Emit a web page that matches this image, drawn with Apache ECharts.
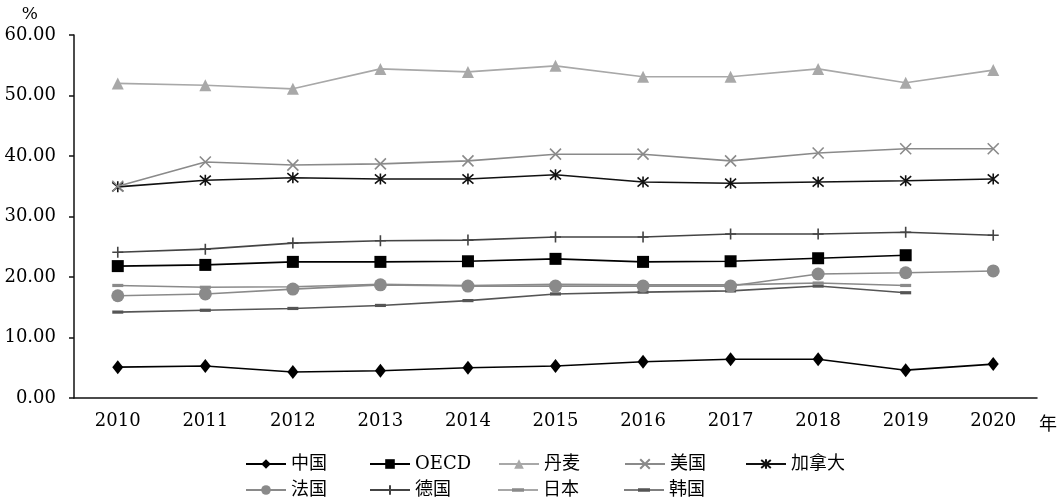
<!DOCTYPE html>
<html>
<head>
<meta charset="utf-8">
<script src="https://cdn.jsdelivr.net/npm/echarts@6/dist/echarts.min.js"></script>
<style>html,body{margin:0;padding:0;background:#fff}#c{width:1060px;height:502px}</style>
</head>
<body>
<div id="c"></div>
<script>
const years = ['2010','2011','2012','2013','2014','2015','2016','2017','2018','2019','2020'];
const yTicks = [0, 10, 20, 30, 40, 50, 60];
const china   = [5.1, 5.3, 4.3, 4.5, 5.0, 5.3, 6.0, 6.4, 6.4, 4.6, 5.6];
const oecd    = [21.8, 22.0, 22.5, 22.5, 22.6, 23.0, 22.5, 22.6, 23.1, 23.6, null];
const denmark = [52.0, 51.7, 51.1, 54.4, 53.9, 54.9, 53.1, 53.1, 54.4, 52.1, 54.2];
const usa     = [35.0, 39.0, 38.5, 38.7, 39.2, 40.3, 40.3, 39.2, 40.5, 41.2, 41.2];
const canada  = [34.9, 36.0, 36.4, 36.2, 36.2, 36.9, 35.7, 35.5, 35.7, 35.9, 36.2];
const france  = [16.9, 17.2, 18.0, 18.7, 18.5, 18.5, 18.5, 18.5, 20.5, 20.7, 21.0];
const germany = [24.1, 24.6, 25.6, 26.0, 26.1, 26.6, 26.6, 27.1, 27.1, 27.4, 26.9];
const japan   = [18.6, 18.3, 18.4, 18.8, 18.6, 18.8, 18.7, 18.7, 19.0, 18.6, null];
const korea   = [14.2, 14.5, 14.8, 15.3, 16.1, 17.2, 17.5, 17.7, 18.5, 17.4, null];

const names = ['中国','OECD','丹麦','美国','加拿大','法国','德国','日本','韩国'];
const values = [china, oecd, denmark, usa, canada, france, germany, japan, korea];

const dash = 'path://M0,0L12,0L12,3.5L0,3.5Z';
const dashLegendIcon = 'path://M0,0.9L40,0.9L40,2.5L0,2.5Z M14,0L26,0L26,3.4L14,3.4Z';
const styles = [
  {color:'#000000', symbol:'diamond', size:[11,14]},
  {color:'#000000', symbol:'rect', size:12},
  {color:'#a8a8a8', symbol:'triangle', size:12},
  {color:'#8a8a8a', symbol:'path://M0,0L10,10M10,0L0,10', size:11, stroke:true},
  {color:'#111111', symbol:'path://M0,0L10,10M10,0L0,10M5,-1L5,11', size:11, stroke:true},
  {color:'#8a8a8a', symbol:'circle', size:13},
  {color:'#444444', symbol:'path://M0,5L10,5M5,0L5,10', size:11, stroke:true},
  {color:'#8a8a8a', symbol:dash, size:11, keep:true},
  {color:'#555555', symbol:dash, size:11, keep:true}
];

const serif = '"DejaVu Serif", "Noto Sans CJK SC", serif';

const series = names.map((n, i) => {
  const s = styles[i];
  return {
    name: n,
    type: 'line',
    data: values[i],
    symbol: s.symbol,
    symbolSize: s.size,
    symbolKeepAspect: !!s.keep,
    showAllSymbol: true,
    lineStyle: {color: s.color, width: 1.6},
    itemStyle: {color: s.color, borderColor: s.color, borderWidth: s.stroke ? 1.6 : 0},
    emphasis: {disabled: true},
    z: 10 - i
  };
});

const colX = [240, 364, 493, 619, 740];
const rowY = [450, 476];
const legends = names.map((n, i) => ({
  data: [styles[i].keep ? {name: n, icon: dashLegendIcon, itemStyle: {color: styles[i].color, borderWidth: 0}} : n],
  left: colX[i < 5 ? i : i - 5],
  top: rowY[i < 5 ? 0 : 1],
  itemWidth: 40,
  itemHeight: 12,
  itemGap: 4,
  symbolKeepAspect: true,
  selectedMode: false,
  textStyle: {fontFamily: serif, fontSize: 18, color: '#000', padding: [0,0,0,0]}
}));

const chart = echarts.init(document.getElementById('c'), null, {renderer: 'canvas'});
chart.setOption({
  animation: false,
  backgroundColor: '#fff',
  grid: {left: 74, right: 22, top: 35, bottom: 104, containLabel: false},
  legend: legends,
  xAxis: {
    type: 'category',
    data: years,
    boundaryGap: true,
    name: '年',
    nameLocation: 'end',
    nameGap: 2,
    nameTextStyle: {fontFamily: serif, fontSize: 18, color: '#000', verticalAlign: 'top', padding: [18, 0, 0, 0]},
    axisLine: {lineStyle: {color: '#111', width: 1.5}},
    axisTick: {alignWithLabel: true, length: 5, lineStyle: {color: '#111', width: 1.5}},
    axisLabel: {fontFamily: serif, fontSize: 18, color: '#000', margin: 14},
    splitLine: {show: false}
  },
  yAxis: {
    type: 'value',
    min: yTicks[0],
    max: yTicks[yTicks.length - 1],
    interval: 10,
    name: '%',
    nameLocation: 'end',
    nameGap: 12,
    nameTextStyle: {fontFamily: serif, fontSize: 17, color: '#000', align: 'right', padding: [0, 36, 0, 0]},
    axisLine: {show: true, lineStyle: {color: '#111', width: 1.5}},
    axisTick: {show: true, length: 5, lineStyle: {color: '#111', width: 1.5}},
    axisLabel: {fontFamily: serif, fontSize: 18, color: '#000', margin: 18, formatter: v => v.toFixed(2)},
    splitLine: {show: false}
  },
  series: series
});
</script>
</body>
</html>
